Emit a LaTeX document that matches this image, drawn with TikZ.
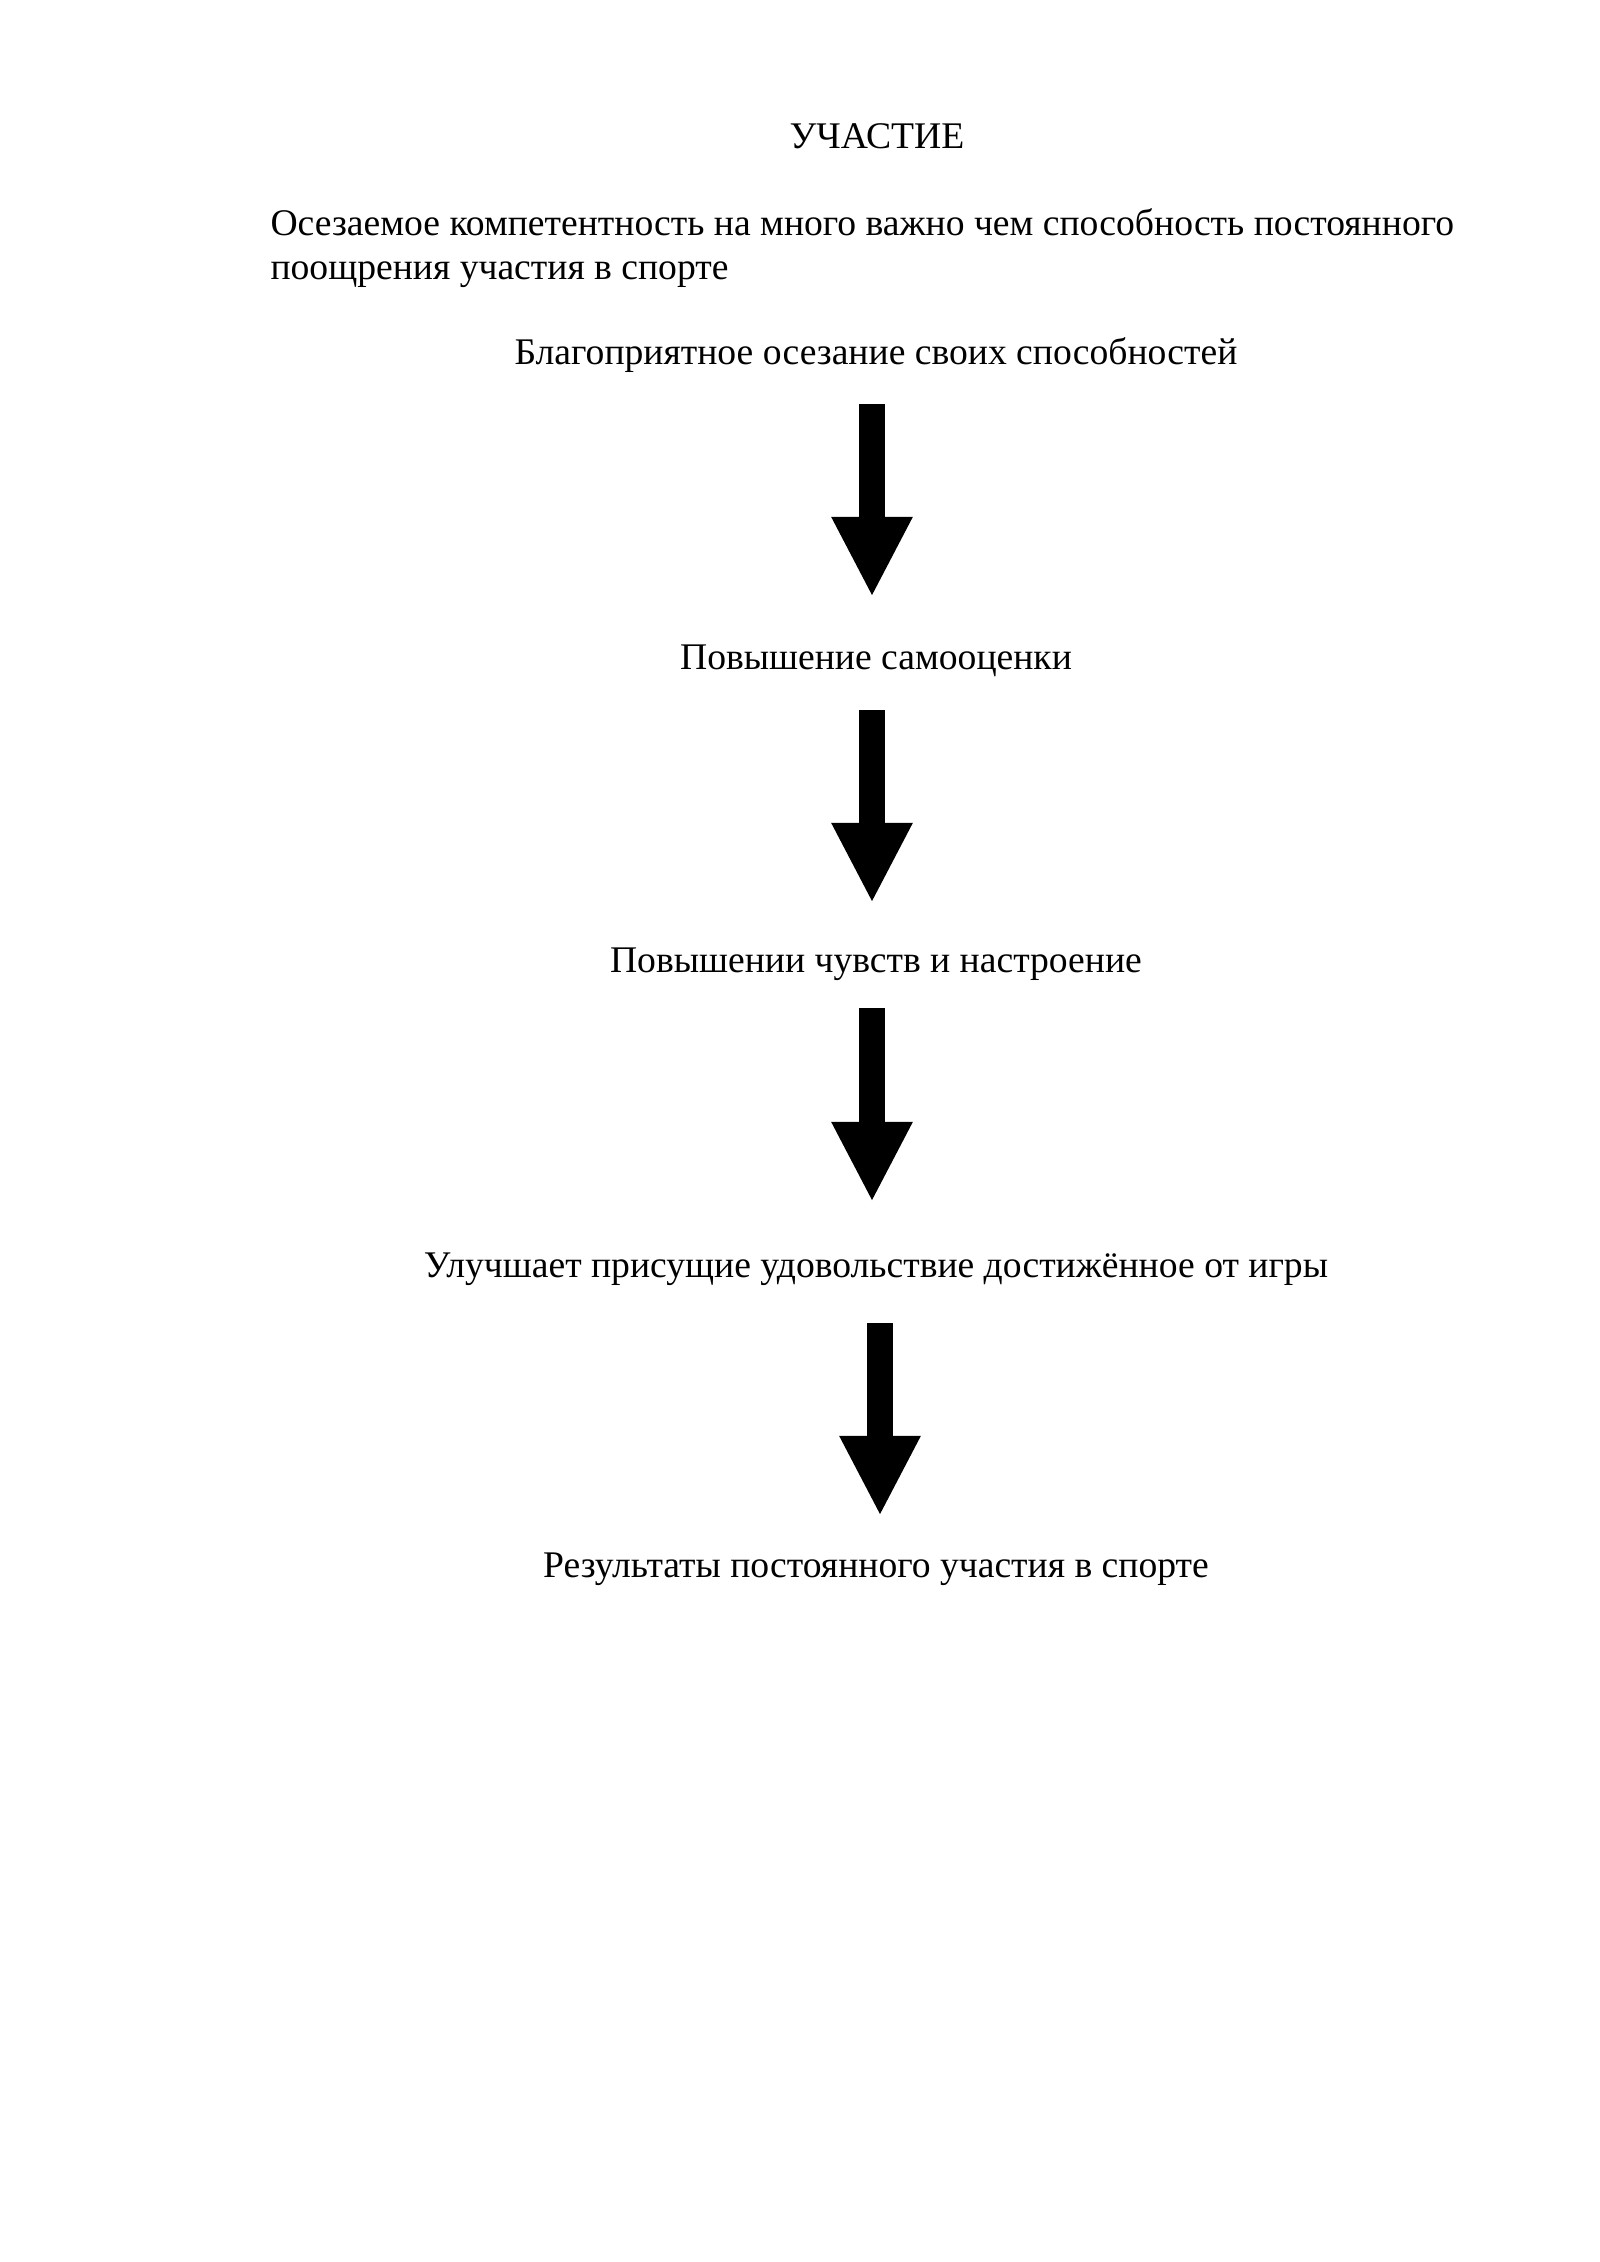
\documentclass[tikz,border=0pt]{standalone}
\usepackage{fontspec}
\setmainfont{Liberation Serif}
\usetikzlibrary{arrows.meta}
\begin{document}
\begin{tikzpicture}[x=0.37205pt,y=-0.37205pt,
  txt/.style={inner sep=0pt,font=\fontsize{14pt}{16pt}\selectfont},
  bigarrow/.style={line width=10pt,-{Triangle[width=28pt,length=29.8pt]}}]
\useasboundingbox[fill=white] (0,0) rectangle (1600,2262);
\node[txt,anchor=base] (title) at (877,149) {УЧАСТИЕ};
\node[txt,anchor=base west] (p1) at (270,236) {Осезаемое компетентность на много важно чем способность постоянного};
\node[txt,anchor=base west] (p2) at (270,280) {поощрения участия в спорте};
\node[txt,anchor=base] (t1) at (876,365) {Благоприятное осезание своих способностей};
\node[txt,anchor=base] (t2) at (876,669) {Повышение самооценки};
\node[txt,anchor=base] (t3) at (876,972) {Повышении чувств и настроение};
\node[txt,anchor=base] (t4) at (876,1277) {Улучшает присущие удовольствие достижённое от игры};
\node[txt,anchor=base] (t5) at (876,1577) {Результаты постоянного участия в спорте};
\coordinate (s1) at (872,404); \coordinate (e1) at (872,597);
\coordinate (s2) at (872,710); \coordinate (e2) at (872,903);
\coordinate (s3) at (872,1008); \coordinate (e3) at (872,1202);
\coordinate (s4) at (880,1323); \coordinate (e4) at (880,1516);
\draw[bigarrow] (s1) -- (e1);
\draw[bigarrow] (s2) -- (e2);
\draw[bigarrow] (s3) -- (e3);
\draw[bigarrow] (s4) -- (e4);
\end{tikzpicture}
\end{document}
